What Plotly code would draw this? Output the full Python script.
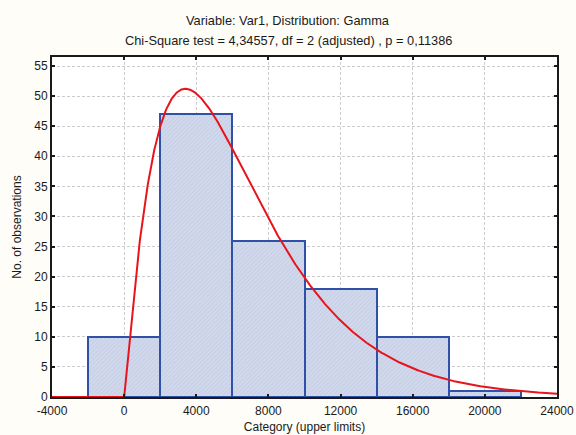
import numpy as np
import plotly.graph_objects as go
from math import lgamma

# --- data ---
bin_upper = [2000, 6000, 10000, 14000, 18000, 22000]
bin_lower = [-2000, 2000, 6000, 10000, 14000, 18000]
counts = [10, 47, 26, 18, 10, 1]
gamma_shape = 2.1
gamma_scale = 3090.0
x_ticks = [-4000, 0, 4000, 8000, 12000, 16000, 20000, 24000]
y_ticks = list(range(0, 56, 5))

n_obs = sum(counts)
bin_width = bin_upper[0] - bin_lower[0]
mids = [(a + b) / 2 for a, b in zip(bin_lower, bin_upper)]

xs = np.linspace(-4000, 24000, 1401)
pos = np.clip(xs, 1e-9, None)
logpdf = (gamma_shape - 1) * np.log(pos) - pos / gamma_scale - lgamma(gamma_shape) - gamma_shape * np.log(gamma_scale)
ys = np.where(xs > 0, np.exp(logpdf) * n_obs * bin_width, 0.0)

fig = go.Figure()
fig.add_trace(go.Bar(
    x=mids, y=counts, width=bin_width,
    marker=dict(color="#D2D9EC",
                line=dict(color="#2F52A8", width=2),
                pattern=dict(shape="/", fgcolor="#B7C2DE", size=3, solidity=0.35)),
    showlegend=False,
))
fig.add_trace(go.Scatter(
    x=xs, y=ys, mode="lines",
    line=dict(color="#E8141C", width=2),
    showlegend=False, cliponaxis=False,
))

font = "Liberation Sans, Arial, sans-serif"
tx = (288 - 52) / 505
fig.update_layout(
    width=576, height=435,
    margin=dict(l=52, r=19, t=57, b=38),
    paper_bgcolor="#FEFDF8", plot_bgcolor="#FFFFFF",
    font=dict(family=font, size=12, color="#1a1a1a"),
    bargap=0,
    annotations=[
        dict(text="Variable: Var1, Distribution: Gamma", xref="paper", yref="paper",
             x=tx, y=1, yshift=37, xanchor="center", yanchor="middle",
             showarrow=False, font=dict(size=12.8, family=font, color="#1a1a1a")),
        dict(text="Chi-Square test = 4,34557, df = 2 (adjusted) , p = 0,11386", xref="paper", yref="paper",
             x=tx, y=1, yshift=17, xanchor="center", yanchor="middle",
             showarrow=False, font=dict(size=12.8, family=font, color="#1a1a1a")),
    ],
)
fig.update_xaxes(
    range=[-4000, 24000], tickvals=x_ticks, ticktext=[str(v) for v in x_ticks],
    showgrid=True, gridcolor="#CCCCCC", griddash="3px,2px", gridwidth=1,
    showline=True, linecolor="#1a1a1a", linewidth=2, mirror="ticks",
    ticks="inside", ticklen=3, tickwidth=2, tickcolor="#1a1a1a",
    zeroline=False, automargin=False, ticklabelstandoff=2,
    title=dict(text="Category (upper limits)", standoff=5, font=dict(size=12)),
    tickfont=dict(size=12),
)
fig.update_yaxes(
    range=[0, 56.5], tickvals=y_ticks,
    showgrid=True, gridcolor="#CCCCCC", griddash="3px,2px", gridwidth=1,
    showline=True, linecolor="#1a1a1a", linewidth=2, mirror="ticks",
    ticks="inside", ticklen=3, tickwidth=2, tickcolor="#1a1a1a",
    zeroline=False, automargin=False,
    title=dict(text="No. of observations", standoff=10, font=dict(size=12)),
    tickfont=dict(size=12),
)
fig.write_html("out.html")
